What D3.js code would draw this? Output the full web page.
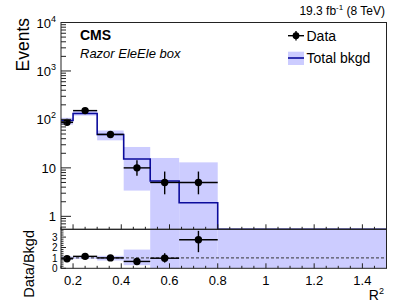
<!DOCTYPE html>
<html>
<head>
<meta charset="utf-8">
<script src="https://cdn.jsdelivr.net/npm/d3@7"></script>
<style>
  body { margin: 0; background: #fff; }
  text { font-family: "Liberation Sans", Arial, Helvetica, sans-serif; }
</style>
</head>
<body>
<svg id="chart" width="407" height="306"></svg>
<script>
// bin edges in R^2 and the values
var binEdges = [0.15, 0.2, 0.3, 0.41, 0.52, 0.64, 0.8, 1.5];
var dataCounts = [87, 152, 49, 10, 5, 5, 0];
var dataErrLo = [78, 140, 42, 6.9, 2.85, 2.85, 0];
var dataErrHi = [97, 165, 57, 14.3, 8.4, 8.4, 0];
var bkgd = [95, 132, 49, 15.2, 5.35, 1.9, 0];
var bkgdLo = [78, 120, 37, 3.4, 0, 0, 0];
var bkgdHi = [108, 155, 59, 27, 16, 13, 0.3];

var ratio = [0.92, 1.15, 1.0, 0.66, 0.97, 2.75];
var ratioErrLo = [0.85, 1.06, 0.88, 0.45, 0.55, 1.55];
var ratioErrHi = [1.02, 1.26, 1.14, 0.94, 1.45, 3.6];
var ratioBandLo = [0.82, 0.91, 0.75, 0.3, 0, 0, 0];
var ratioBandHi = [1.14, 1.17, 1.2, 1.8, 10, 10, 10];

var xTicks = [0.2, 0.4, 0.6, 0.8, 1, 1.2, 1.4];
var yDecades = [1, 10, 100, 1000, 10000];
var ratioTicks = [0, 1, 2, 3];

var bandColor = "#ccccff", lineColor = "#0b0b9c";

var svg = d3.select("#chart");
var padLeft = 61, padRight = 386.5, padTop = 22.5, padMid = 229.3, padBottom = 268.3;

var x = d3.scaleLinear().domain([0.15, 1.5]).range([padLeft, padRight]);
var y = d3.scaleLog().domain([0.54, 10000]).range([padMid, padTop]).clamp(true);
var yr = d3.scaleLinear().domain([0, 3.75]).range([padBottom, padMid]).clamp(true);

var bins = [];
for (var i = 0; i < binEdges.length - 1; i++) {
    bins.push({lo: binEdges[i], hi: binEdges[i + 1], c: (binEdges[i] + binEdges[i + 1]) / 2, i: i});
}
function ly(v) { return y(Math.max(v, 0.54)); }

// ---- main panel ----
svg.selectAll(".band").data(bins).enter().append("rect")
    .attr("x", function (d) { return x(d.lo); })
    .attr("width", function (d) { return x(d.hi) - x(d.lo); })
    .attr("y", function (d) { return ly(bkgdHi[d.i]); })
    .attr("height", function (d) { return ly(bkgdLo[d.i]) - ly(bkgdHi[d.i]); })
    .style("fill", bandColor);

var path = d3.path();
bins.forEach(function (d, k) {
    var yy = ly(bkgd[d.i]);
    if (k == 0) path.moveTo(x(d.lo), yy); else path.lineTo(x(d.lo), yy);
    path.lineTo(x(d.hi), yy);
});
svg.append("path").attr("d", path.toString())
    .style("fill", "none").style("stroke", lineColor).style("stroke-width", 1.6);

var shown = bins.filter(function (d) { return dataCounts[d.i] > 0; });
var g = svg.append("g").style("stroke", "#000").style("stroke-width", 1.4);
g.selectAll(".hbar").data(shown).enter().append("line")
    .attr("x1", function (d) { return x(d.lo); })
    .attr("x2", function (d) { return x(d.hi); })
    .attr("y1", function (d) { return ly(dataCounts[d.i]); })
    .attr("y2", function (d) { return ly(dataCounts[d.i]); });
g.selectAll(".vbar").data(shown).enter().append("line")
    .attr("x1", function (d) { return x(d.c); })
    .attr("x2", function (d) { return x(d.c); })
    .attr("y1", function (d) { return ly(dataErrLo[d.i]); })
    .attr("y2", function (d) { return ly(dataErrHi[d.i]); });
svg.selectAll(".pt").data(shown).enter().append("circle")
    .attr("cx", function (d) { return x(d.c); })
    .attr("cy", function (d) { return ly(dataCounts[d.i]); })
    .attr("r", 3.7).style("fill", "#000");

// ---- ratio panel ----
svg.selectAll(".rband").data(bins).enter().append("rect")
    .attr("x", function (d) { return x(d.lo); })
    .attr("width", function (d) { return x(d.hi) - x(d.lo); })
    .attr("y", function (d) { return yr(ratioBandHi[d.i]); })
    .attr("height", function (d) { return yr(ratioBandLo[d.i]) - yr(ratioBandHi[d.i]); })
    .style("fill", bandColor);

svg.append("line")
    .attr("x1", padLeft).attr("x2", padRight).attr("y1", yr(1)).attr("y2", yr(1))
    .style("stroke", "#333").style("stroke-width", 1).style("stroke-dasharray", "3,2");

var rbins = bins.slice(0, ratio.length);
var rg = svg.append("g").style("stroke", "#000").style("stroke-width", 1.4);
rg.selectAll(".rh").data(rbins).enter().append("line")
    .attr("x1", function (d) { return x(d.lo); })
    .attr("x2", function (d) { return x(d.hi); })
    .attr("y1", function (d) { return yr(ratio[d.i]); })
    .attr("y2", function (d) { return yr(ratio[d.i]); });
rg.selectAll(".rv").data(rbins).enter().append("line")
    .attr("x1", function (d) { return x(d.c); })
    .attr("x2", function (d) { return x(d.c); })
    .attr("y1", function (d) { return yr(ratioErrLo[d.i]); })
    .attr("y2", function (d) { return yr(ratioErrHi[d.i]); });
svg.selectAll(".rpt").data(rbins).enter().append("circle")
    .attr("cx", function (d) { return x(d.c); })
    .attr("cy", function (d) { return yr(ratio[d.i]); })
    .attr("r", 3.7).style("fill", "#000");

// ---- frames and ticks ----
var axisColor = "#222";
svg.append("rect").attr("x", padLeft).attr("y", padTop).attr("width", padRight - padLeft).attr("height", padMid - padTop)
    .style("fill", "none").style("stroke", axisColor).style("stroke-width", 1);
svg.append("rect").attr("x", padLeft).attr("y", padMid).attr("width", padRight - padLeft).attr("height", padBottom - padMid)
    .style("fill", "none").style("stroke", axisColor).style("stroke-width", 1);

var ticks = svg.append("g").style("stroke", axisColor).style("stroke-width", 1);
var xMinor = d3.range(0.15, 1.5001, 0.05);
[padMid, padBottom].forEach(function (yb) {
    xMinor.forEach(function (t) {
        var major = xTicks.some(function (m) { return Math.abs(m - t) < 1e-6; });
        ticks.append("line").attr("x1", x(t)).attr("x2", x(t))
            .attr("y1", yb).attr("y2", yb - (major ? 5 : 2.5));
    });
});

// log y ticks
yDecades.forEach(function (d) {
    ticks.append("line").attr("x1", padLeft).attr("x2", padLeft + 10).attr("y1", y(d)).attr("y2", y(d));
});
[0.1, 1, 10, 100, 1000].forEach(function (d) {
    for (var m = 2; m <= 9; m++) {
        var v = d * m;
        if (v < 0.54 || v > 10000) continue;
        ticks.append("line").attr("x1", padLeft).attr("x2", padLeft + 5).attr("y1", y(v)).attr("y2", y(v));
    }
});

// ratio y ticks
d3.range(0, 3.7, 0.2).forEach(function (t) {
    var major = Math.abs(t - Math.round(t)) < 1e-6;
    ticks.append("line").attr("x1", padLeft).attr("x2", padLeft + (major ? 5 : 2.5))
        .attr("y1", yr(t)).attr("y2", yr(t));
});

// ---- labels ----
svg.selectAll(".xl").data(xTicks).enter().append("text")
    .attr("x", function (d) { return x(d); }).attr("y", 285)
    .attr("text-anchor", "middle").style("font-size", "13px")
    .text(function (d) { return d; });

yDecades.forEach(function (d) {
    var e = Math.round(Math.log10(d));
    var t = svg.append("text").attr("x", 56).attr("y", y(d) + 5)
        .attr("text-anchor", "end").style("font-size", "13px");
    if (e == 0) t.text("1");
    else if (e == 1) t.text("10");
    else {
        t.append("tspan").text("10");
        t.append("tspan").attr("dy", -6).style("font-size", "9px").text(e);
    }
});

svg.selectAll(".rl").data(ratioTicks).enter().append("text")
    .attr("x", 57.5).attr("y", function (d) { return yr(d) + 3.6; })
    .attr("text-anchor", "end").style("font-size", "10px")
    .text(function (d) { return d; });

svg.append("text").attr("transform", "translate(28.5,18) rotate(-90)")
    .attr("text-anchor", "end").style("font-size", "17.5px").text("Events");
svg.append("text").attr("transform", "translate(34,230) rotate(-90)")
    .attr("text-anchor", "end").style("font-size", "14.5px").text("Data/Bkgd");

var rx = svg.append("text").attr("x", 384).attr("y", 300).attr("text-anchor", "end").style("font-size", "14px");
rx.append("tspan").text("R");
rx.append("tspan").attr("dy", -6).style("font-size", "9px").text("2");

var lumi = svg.append("text").attr("x", 385).attr("y", 15).attr("text-anchor", "end").style("font-size", "12px");
lumi.append("tspan").text("19.3 fb");
lumi.append("tspan").attr("dy", -5).style("font-size", "8px").text("-1");
lumi.append("tspan").attr("dy", 5).text(" (8 TeV)");

svg.append("text").attr("x", 80).attr("y", 40).style("font-size", "14px").style("font-weight", "bold").text("CMS");
svg.append("text").attr("x", 80).attr("y", 58).style("font-size", "13px").style("font-style", "italic").text("Razor EleEle box");

// legend
var leg = svg.append("g");
leg.append("line").attr("x1", 288).attr("x2", 304).attr("y1", 35.7).attr("y2", 35.7).style("stroke", "#000").style("stroke-width", 1.4);
leg.append("line").attr("x1", 296).attr("x2", 296).attr("y1", 31).attr("y2", 40.5).style("stroke", "#000").style("stroke-width", 1.4);
leg.append("circle").attr("cx", 296).attr("cy", 35.7).attr("r", 3.4).style("fill", "#000");
leg.append("text").attr("x", 306.5).attr("y", 40.5).style("font-size", "14px").text("Data");
leg.append("rect").attr("x", 288).attr("y", 51.7).attr("width", 16).attr("height", 13.3).style("fill", bandColor);
leg.append("line").attr("x1", 288).attr("x2", 304).attr("y1", 58).attr("y2", 58).style("stroke", lineColor).style("stroke-width", 1.6);
leg.append("text").attr("x", 306.5).attr("y", 63).style("font-size", "14px").text("Total bkgd");
</script>
</body>
</html>
